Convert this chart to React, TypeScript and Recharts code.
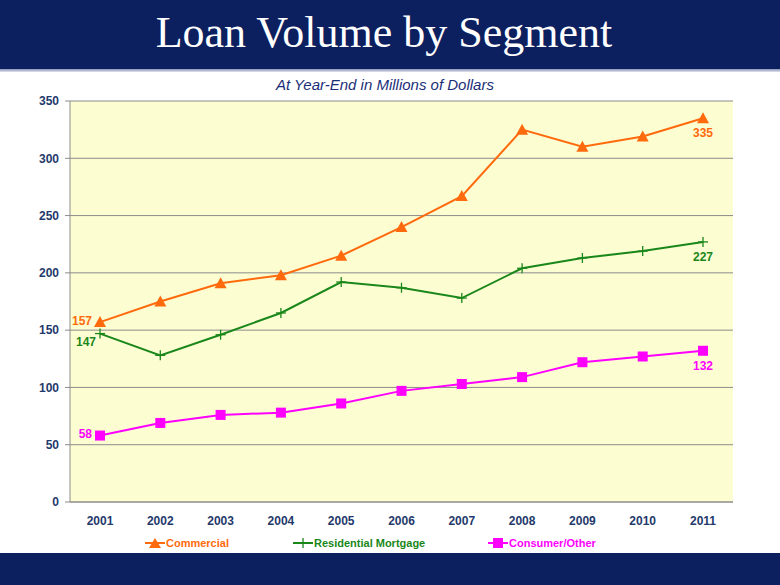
import React from 'react';
import { LineChart, Line, XAxis, YAxis, CartesianGrid } from 'recharts';

const years = ['2001', '2002', '2003', '2004', '2005', '2006', '2007', '2008', '2009', '2010', '2011'];
const commercial = [157, 175, 191, 198, 215, 240, 267, 325, 310, 319, 335];
const residential = [147, 128, 146, 165, 192, 187, 178, 204, 213, 219, 227];
const consumer = [58, 69, 76, 78, 86, 97, 103, 109, 122, 127, 132];
const yTicks = [0, 50, 100, 150, 200, 250, 300, 350];

const NAVY = '#0c1f5f';
const ORANGE = '#ff6a0d';
const GREEN = '#1a871a';
const MAGENTA = '#ff00ff';
const AXIS_TEXT = '#1f3a6b';

const data = years.map((year, i) => ({
  year,
  commercial: commercial[i],
  residential: residential[i],
  consumer: consumer[i],
}));

const Triangle = (props: any) => {
  const { cx, cy } = props;
  if (cx == null || cy == null) return null;
  return <polygon points={`${cx},${cy - 6} ${cx - 6},${cy + 5} ${cx + 6},${cy + 5}`} fill={ORANGE} />;
};

const Plus = (props: any) => {
  const { cx, cy } = props;
  if (cx == null || cy == null) return null;
  return (
    <g stroke={GREEN} strokeWidth={1.3}>
      <line x1={cx - 5} y1={cy} x2={cx + 5} y2={cy} />
      <line x1={cx} y1={cy - 5} x2={cx} y2={cy + 5} />
    </g>
  );
};

const Square = (props: any) => {
  const { cx, cy } = props;
  if (cx == null || cy == null) return null;
  return <rect x={cx - 5} y={cy - 5} width={10} height={10} fill={MAGENTA} />;
};

// only the first and last points carry a value label
const endLabel = (color: string, firstDx: number, firstDy: number) => (props: any) => {
  const { x, y, value, index } = props;
  const last = years.length - 1;
  if (index !== 0 && index !== last) return null;
  const style = { fontFamily: 'Arial, "Liberation Sans", sans-serif', fontSize: 12, fontWeight: 700 };
  if (index === 0) {
    return (
      <text x={x + firstDx} y={y + firstDy} textAnchor="end" dominantBaseline="central" fill={color} style={style}>
        {value}
      </text>
    );
  }
  return (
    <text x={x} y={y + 15} textAnchor="middle" dominantBaseline="central" fill={color} style={style}>
      {value}
    </text>
  );
};

const LegendItem = ({ color, label, marker, left }: { color: string; label: string; marker: React.ReactNode; left: number }) => (
  <div style={{ position: 'absolute', left, top: 536, display: 'flex', alignItems: 'center', color, fontFamily: 'Arial, "Liberation Sans", sans-serif', fontSize: 11, fontWeight: 700 }}>
    <svg width={20} height={14} style={{ marginRight: 1 }}>
      <line x1={0} y1={7} x2={20} y2={7} stroke={color} strokeWidth={2} />
      {marker}
    </svg>
    {label}
  </div>
);

export default function App() {
  const tickStyle = { fill: AXIS_TEXT, fontSize: 12, fontWeight: 700, fontFamily: 'Arial, "Liberation Sans", sans-serif' };
  return (
    <div style={{ position: 'absolute', left: 0, top: 0, width: 780, height: 585, background: '#fff', overflow: 'hidden' }}>
      <div style={{ position: 'absolute', left: 0, top: 0, width: 780, height: 69, background: NAVY }} />
      <div style={{ position: 'absolute', left: 0, top: 69, width: 780, height: 3, background: 'linear-gradient(#8a93b5, #dfe2ee)' }} />
      <div style={{ position: 'absolute', left: 0, top: 3, width: 768, textAlign: 'center', color: '#fff', fontFamily: '"Times New Roman", "Liberation Serif", serif', fontSize: 44, lineHeight: '60px' }}>
        Loan Volume by Segment
      </div>
      <div style={{ position: 'absolute', left: 0, top: 76, width: 770, textAlign: 'center', color: '#1a2e78', fontFamily: 'Arial, "Liberation Sans", sans-serif', fontSize: 15, fontStyle: 'italic' }}>
        At Year-End in Millions of Dollars
      </div>
      <div style={{ position: 'absolute', left: 0, top: 553, width: 780, height: 32, background: NAVY }} />
      <div style={{ position: 'absolute', left: 0, top: 0 }}>
        <LineChart width={780} height={585} data={data} margin={{ top: 101, right: 47, left: 0, bottom: 53 }}>
          <CartesianGrid vertical={false} stroke="#8c8c8c" fill="#fdfdd2" />
          <XAxis
            dataKey="year"
            padding={{ left: 30, right: 30 }}
            height={30}
            axisLine={{ stroke: '#8c8c8c' }}
            tickLine={false}
            tick={tickStyle}
            tickMargin={8}
            interval={0}
          />
          <YAxis
            width={70}
            domain={[0, 350]}
            ticks={yTicks}
            axisLine={{ stroke: '#8c8c8c' }}
            tickLine={{ stroke: '#8c8c8c' }}
            tickSize={5}
            tickMargin={6}
            tick={tickStyle}
          />
          <YAxis
            yAxisId="border"
            orientation="right"
            width={0}
            domain={[0, 350]}
            axisLine={{ stroke: '#a6a6a6' }}
            tick={false}
            tickLine={false}
          />
          <Line dataKey="commercial" stroke={ORANGE} strokeWidth={2} dot={<Triangle />} activeDot={false} isAnimationActive={false} label={endLabel(ORANGE, -8, -1)} />
          <Line dataKey="residential" stroke={GREEN} strokeWidth={2} dot={<Plus />} activeDot={false} isAnimationActive={false} label={endLabel(GREEN, -4, 8)} />
          <Line dataKey="consumer" stroke={MAGENTA} strokeWidth={2} dot={<Square />} activeDot={false} isAnimationActive={false} label={endLabel(MAGENTA, -8, -2)} />
        </LineChart>
      </div>
      <LegendItem left={145} color={ORANGE} label="Commercial" marker={<polygon points="10,2 4,12 16,12" fill={ORANGE} />} />
      <LegendItem left={293} color={GREEN} label="Residential Mortgage" marker={<line x1={10} y1={2} x2={10} y2={12} stroke={GREEN} strokeWidth={1.3} />} />
      <LegendItem left={488} color={MAGENTA} label="Consumer/Other" marker={<rect x={5} y={2} width={10} height={10} fill={MAGENTA} />} />
    </div>
  );
}
